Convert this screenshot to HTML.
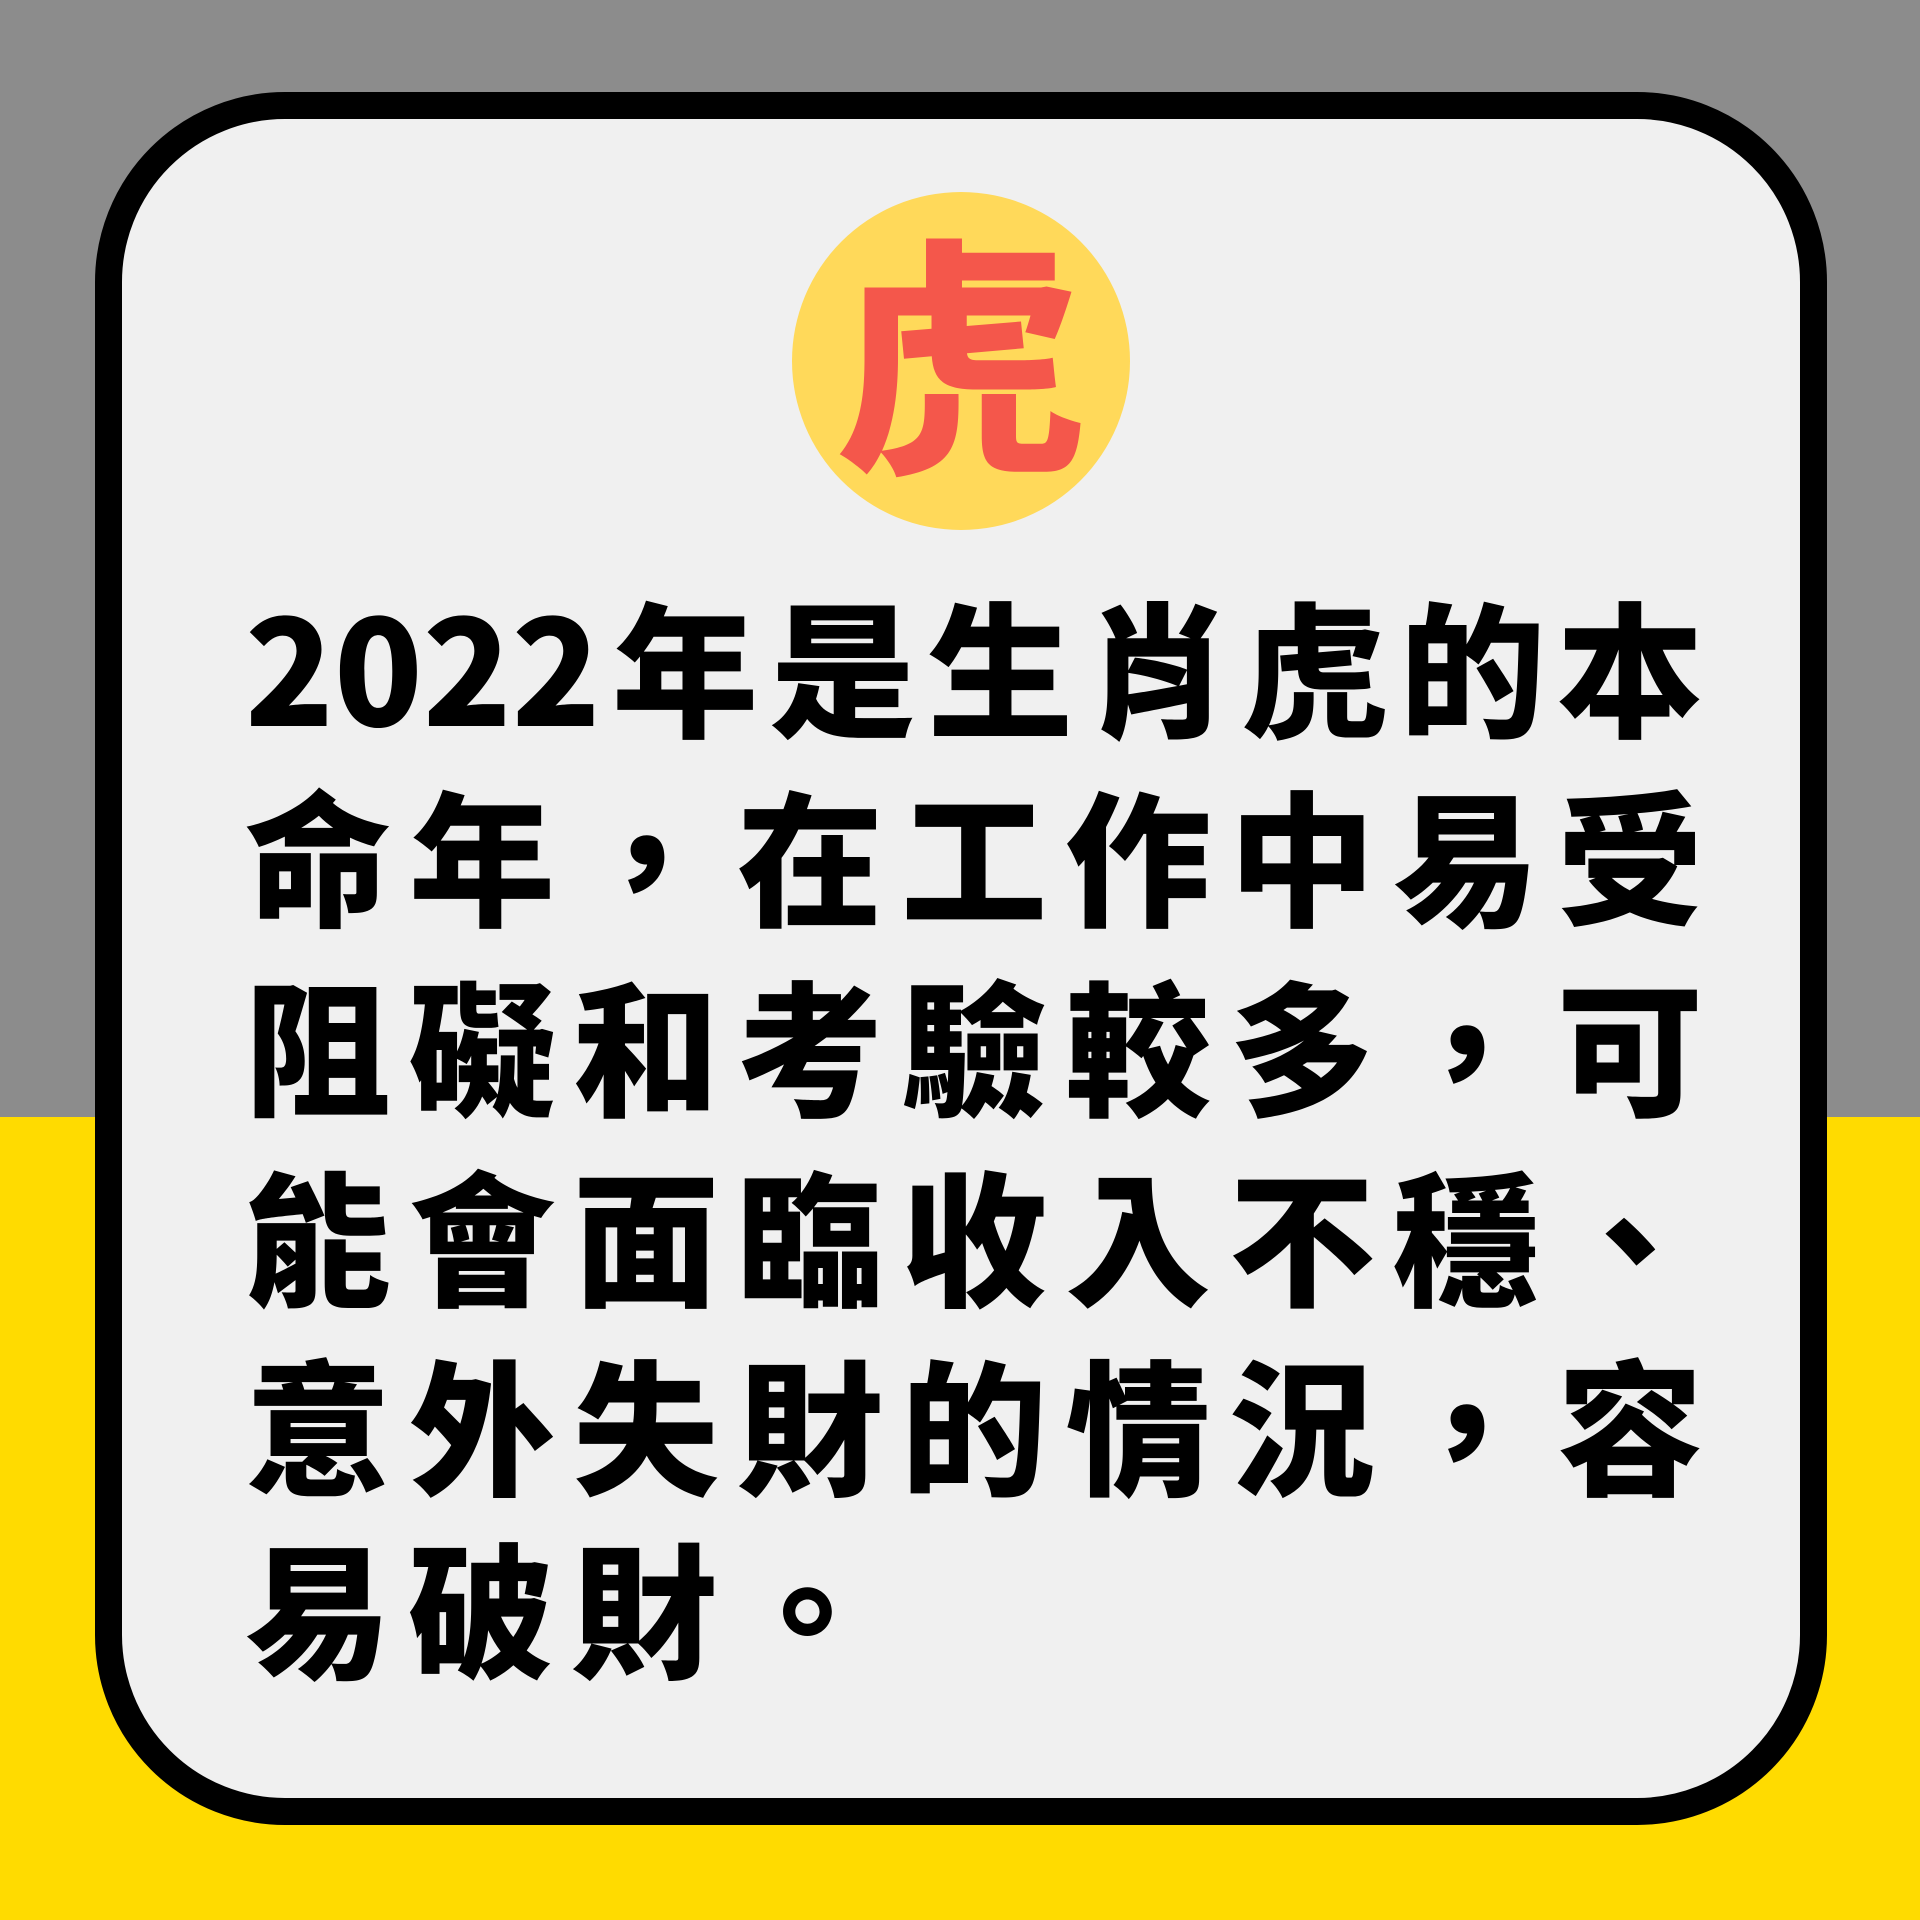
<!DOCTYPE html>
<html><head><meta charset="utf-8"><style>
html,body{margin:0;padding:0}
body{width:1920px;height:1920px;position:relative;overflow:hidden;background:#8c8c8c;font-family:"Liberation Sans","Noto Sans CJK TC",sans-serif}
#bottom{position:absolute;left:0;top:1117px;width:1920px;height:803px;background:#ffdb00}
#card{position:absolute;left:95px;top:92px;width:1678px;height:1679px;border:27px solid #000;border-radius:190px;background:#f0f0f0}
#circle{position:absolute;left:792px;top:192px;width:338px;height:338px;border-radius:50%;background:#ffd95a;color:#f4574b;font-family:"Noto Sans CJK TC",sans-serif;font-weight:900;font-size:250px;line-height:302px;text-align:center;overflow:hidden}
.line{position:absolute;left:245px;width:1458px;font-family:"Noto Sans CJK TC","Liberation Sans",sans-serif;font-weight:900;font-size:146px;line-height:190px;color:#000;text-align:justify;text-align-last:justify;text-justify:inter-character;white-space:nowrap}
.last{text-align:left;text-align-last:left;letter-spacing:17px}
</style></head><body>
<div id="bottom"></div>
<div id="card"></div>
<div id="circle">虎</div>
<div class="line" style="top:569px">2022年是生肖虎的本</div>
<div class="line" style="top:758px">命年，在工作中易受</div>
<div class="line" style="top:948px">阻礙和考驗較多，可</div>
<div class="line" style="top:1138px">能會面臨收入不穩、</div>
<div class="line" style="top:1327px">意外失財的情況，容</div>
<div class="line last" style="top:1510px">易破財。</div>
</body></html>
